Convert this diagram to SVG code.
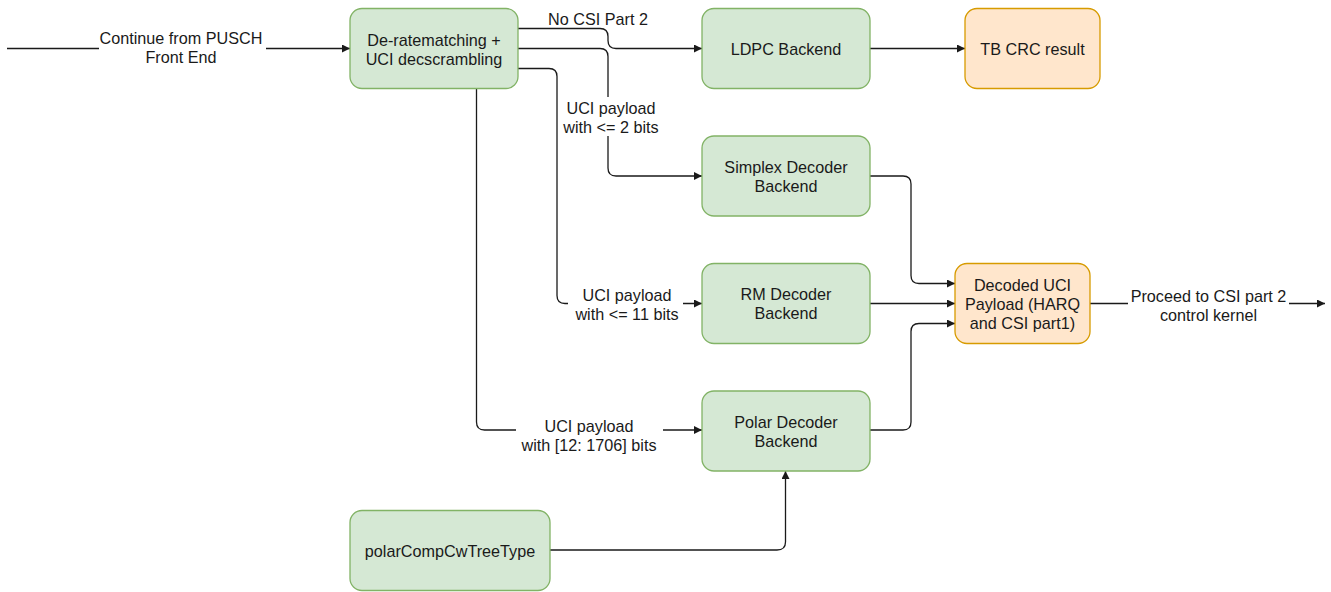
<svg xmlns="http://www.w3.org/2000/svg" width="1331" height="592" viewBox="0 0 1331 592">
  <style>
    .txt { font-family: "Liberation Sans", Arial, sans-serif; font-size: 16.2px; fill: #1a1a1a; text-anchor: middle; dominant-baseline: central; }
    .green { fill: #d5e8d4; stroke: #82b366; stroke-width: 1.3; }
    .orange { fill: #ffe6cc; stroke: #d79b00; stroke-width: 1.3; }
    .edge { fill: none; stroke: #1a1a1a; stroke-width: 1.3; }
    .lblbg { fill: #ffffff; stroke: none; }
  </style>
  <defs>
    <marker id="arrow" viewBox="0 0 10 10" refX="10" refY="5" markerWidth="8" markerHeight="8" markerUnits="userSpaceOnUse" orient="auto">
      <path d="M0,0 L10,5 L0,10 Z" fill="#1a1a1a"/>
    </marker>
  </defs>
  <rect width="1331" height="592" fill="#ffffff"/>

  <!-- connectors -->
  <g id="connectors">
    <path class="edge" d="M7,48.5 H350" marker-end="url(#arrow)"/>
    <path class="edge" d="M518,28.5 H600 Q608,28.5 608,36.5 V40.5 Q608,48.5 616,48.5 H702" marker-end="url(#arrow)"/>
    <path class="edge" d="M518,48.5 H600 Q608,48.5 608,56.5 V168 Q608,176 616,176 H702" marker-end="url(#arrow)"/>
    <path class="edge" d="M518,68.5 H549 Q557,68.5 557,76.5 V295.5 Q557,303.5 565,303.5 H702" marker-end="url(#arrow)"/>
    <path class="edge" d="M476.5,88.5 V422 Q476.5,430 484.5,430 H702" marker-end="url(#arrow)"/>
    <path class="edge" d="M870,48.5 H965" marker-end="url(#arrow)"/>
    <path class="edge" d="M870,176 H903 Q911,176 911,184 V275.5 Q911,283.5 919,283.5 H955" marker-end="url(#arrow)"/>
    <path class="edge" d="M870,303.5 H955" marker-end="url(#arrow)"/>
    <path class="edge" d="M870,430 H903 Q911,430 911,422 V331.5 Q911,323.5 919,323.5 H955" marker-end="url(#arrow)"/>
    <path class="edge" d="M1090,303.5 H1325" marker-end="url(#arrow)"/>
    <path class="edge" d="M550,550 H777 Q785.5,550 785.5,542 V471" marker-end="url(#arrow)"/>

    <!-- edge labels -->
    <g id="lbl-input">
      <rect class="lblbg" x="99" y="28" width="167" height="38"/>
      <text class="txt" x="181" y="37.5">Continue from PUSCH</text>
      <text class="txt" x="181" y="56.5">Front End</text>
    </g>
    <g id="lbl-ldpc">
      <text class="txt" x="598" y="19">No CSI Part 2</text>
    </g>
    <g id="lbl-simplex">
      <rect class="lblbg" x="560" y="97" width="105" height="39"/>
      <text class="txt" x="611" y="107.5">UCI payload</text>
      <text class="txt" x="611" y="126.5">with &lt;= 2 bits</text>
    </g>
    <g id="lbl-rm">
      <rect class="lblbg" x="568" y="285" width="115" height="38"/>
      <text class="txt" x="627" y="295">UCI payload</text>
      <text class="txt" x="627" y="313.5">with &lt;= 11 bits</text>
    </g>
    <g id="lbl-polar">
      <rect class="lblbg" x="516" y="415" width="147" height="40"/>
      <text class="txt" x="589" y="426">UCI payload</text>
      <text class="txt" x="589" y="445">with [12: 1706] bits</text>
    </g>
    <g id="lbl-output">
      <rect class="lblbg" x="1128" y="285" width="161" height="40"/>
      <text class="txt" x="1208.5" y="295.5">Proceed to CSI part 2</text>
      <text class="txt" x="1208.5" y="314.5">control kernel</text>
    </g>
  </g>

  <!-- nodes -->
  <g id="node-derate">
    <rect class="green" x="350" y="8.5" width="168" height="80" rx="12"/>
    <text class="txt" x="434" y="39.5">De-ratematching +</text>
    <text class="txt" x="434" y="58.5">UCI decscrambling</text>
  </g>
  <g id="node-ldpc">
    <rect class="green" x="702" y="8.5" width="168" height="80" rx="12"/>
    <text class="txt" x="786" y="48.5">LDPC Backend</text>
  </g>
  <g id="node-tbcrc">
    <rect class="orange" x="965" y="8.5" width="135" height="80" rx="12"/>
    <text class="txt" x="1032.5" y="48.5">TB CRC result</text>
  </g>
  <g id="node-simplex">
    <rect class="green" x="702" y="136" width="168" height="80" rx="12"/>
    <text class="txt" x="786" y="166.5">Simplex Decoder</text>
    <text class="txt" x="786" y="185.5">Backend</text>
  </g>
  <g id="node-rm">
    <rect class="green" x="702" y="263.5" width="168" height="80" rx="12"/>
    <text class="txt" x="786" y="294">RM Decoder</text>
    <text class="txt" x="786" y="313">Backend</text>
  </g>
  <g id="node-decoded">
    <rect class="orange" x="955" y="263.5" width="135" height="80" rx="12"/>
    <text class="txt" x="1022.5" y="284.5">Decoded UCI</text>
    <text class="txt" x="1022.5" y="303.5">Payload (HARQ</text>
    <text class="txt" x="1022.5" y="322.5">and CSI part1)</text>
  </g>
  <g id="node-polar">
    <rect class="green" x="702" y="391" width="168" height="80" rx="12"/>
    <text class="txt" x="786" y="421.5">Polar Decoder</text>
    <text class="txt" x="786" y="440.5">Backend</text>
  </g>
  <g id="node-polarcomp">
    <rect class="green" x="350" y="510.5" width="200" height="80" rx="12"/>
    <text class="txt" x="450" y="550.5">polarCompCwTreeType</text>
  </g>
</svg>
